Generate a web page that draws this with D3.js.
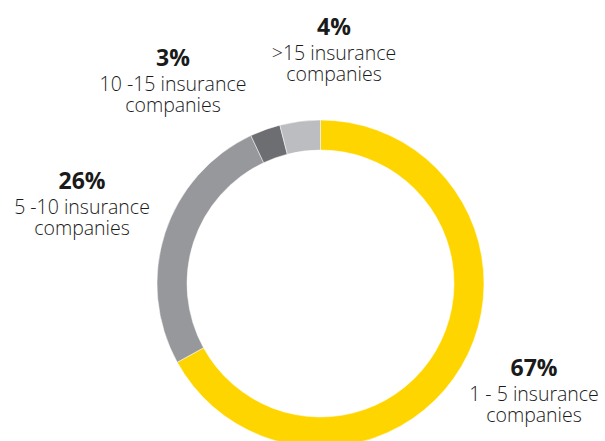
<!DOCTYPE html>
<html>
<head>
<meta charset="utf-8">
<script src="https://cdn.jsdelivr.net/npm/d3@7"></script>
<style>
  html, body { margin: 0; padding: 0; background: #fff; }
  svg { display: block; }
</style>
</head>
<body>
<svg id="chart" width="605" height="441"></svg>
<script>
const categories = ["1 - 5 insurance", "5 -10 insurance", "10 -15 insurance", ">15 insurance"];
const values = [67, 26, 3, 4];
const percentLabels = ["67%", "26%", "3%", "4%"];
const colors = ["#FFD500", "#97989C", "#6D6E71", "#BCBDC0"];

// layout (label anchor = baseline of percent line)
const labelAnchors = [[534, 376], [82, 189], [173, 66], [334, 35]];

const W = 605, H = 441;
const cx = 320.5, cy = 283.5, rOuter = 163.5, rInner = 133.5;
const font = "'Open Sans', 'Noto Sans', sans-serif";

const svg = d3.select("#chart");
const g = svg.append("g").attr("transform", `translate(${cx},${cy})`);

const pie = d3.pie().sort(null).value(d => d)(values);
const arc = d3.arc().innerRadius(rInner).outerRadius(rOuter);

g.selectAll("path").data(pie).enter().append("path")
  .attr("d", arc)
  .attr("fill", (d, i) => colors[i])
  .attr("stroke", "#fff")
  .attr("stroke-width", 0.5);

const labels = svg.selectAll("text.label").data(categories).enter().append("text")
  .attr("class", "label")
  .attr("text-anchor", "middle")
  .attr("font-family", font)
  .attr("fill", "#1a1a1a");

labels.append("tspan")
  .attr("x", (d, i) => labelAnchors[i][0])
  .attr("y", (d, i) => labelAnchors[i][1])
  .attr("font-size", 23)
  .attr("font-weight", 700)
  .text((d, i) => percentLabels[i]);
labels.append("tspan")
  .attr("x", (d, i) => labelAnchors[i][0])
  .attr("y", (d, i) => labelAnchors[i][1] + 24.5)
  .attr("font-size", 19.5)
  .attr("font-weight", 300)
  .text(d => d);
labels.append("tspan")
  .attr("x", (d, i) => labelAnchors[i][0])
  .attr("y", (d, i) => labelAnchors[i][1] + 46)
  .attr("font-size", 19.5)
  .attr("font-weight", 300)
  .text("companies");
</script>
</body>
</html>
